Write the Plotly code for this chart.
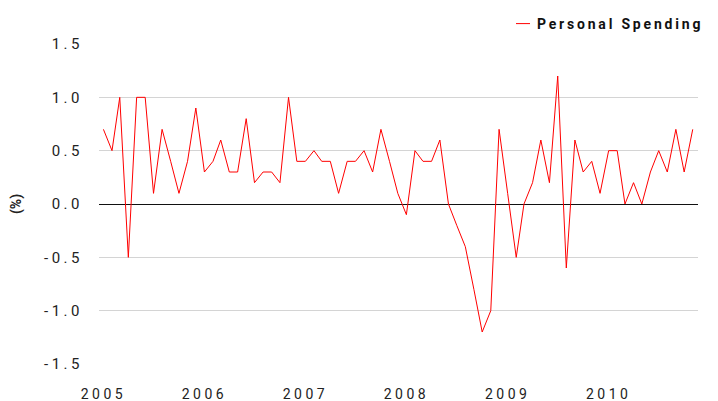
import plotly.graph_objects as go
import pandas as pd

# Monthly percent change, Jan 2005 - Nov 2010
months = pd.date_range("2005-01-01", periods=71, freq="MS")
spending = [
    0.7, 0.5, 1.0, -0.5, 1.0, 1.0, 0.1, 0.7, 0.4, 0.1, 0.4, 0.9,   # 2005
    0.3, 0.4, 0.6, 0.3, 0.3, 0.8, 0.2, 0.3, 0.3, 0.2, 1.0, 0.4,    # 2006
    0.4, 0.5, 0.4, 0.4, 0.1, 0.4, 0.4, 0.5, 0.3, 0.7, 0.4, 0.1,    # 2007
    -0.1, 0.5, 0.4, 0.4, 0.6, 0.0, -0.2, -0.4, -0.8, -1.2, -1.0, 0.7,  # 2008
    0.1, -0.5, 0.0, 0.2, 0.6, 0.2, 1.2, -0.6, 0.6, 0.3, 0.4, 0.1,  # 2009
    0.5, 0.5, 0.0, 0.2, 0.0, 0.3, 0.5, 0.3, 0.7, 0.3, 0.7,         # 2010
]
year_ticks = pd.date_range("2005-01-01", periods=6, freq="YS")
year_labels = ["2005", "2006", "2007", "2008", "2009", "2010"]
y_ticks = [-1.5, -1.0, -0.5, 0.0, 0.5, 1.0, 1.5]
y_labels = ["-1.5", "-1.0", "-0.5", "0.0", "0.5", "1.0", "1.5"]

fig = go.Figure()
fig.add_trace(go.Scatter(
    x=months, y=spending, mode="lines", name="Personal Spending",
    line=dict(color="#ff0000", width=1),
))

font_family = "Roboto, 'Open Sans', sans-serif"
fig.update_layout(
    width=718, height=401,
    margin=dict(l=99, r=20, t=44, b=37, autoexpand=False),
    paper_bgcolor="white", plot_bgcolor="white",
    font=dict(family=font_family, size=14, color="#222222"),
    showlegend=True,
    legend=dict(xref="container", yref="container",
                x=497.0 / 718, xanchor="left",
                y=1 - 8.0 / 401, yanchor="top",
                font=dict(size=14, color="#111111", weight="bold"),
                bgcolor="rgba(0,0,0,0)", borderwidth=0),
    xaxis=dict(
        range=["2004-12-16", "2010-11-20"],
        tickvals=year_ticks, ticktext=year_labels,
        showgrid=False, zeroline=False, showline=False, ticks="",
        tickfont=dict(size=14), automargin=False, ticklabelstandoff=20,
    ),
    yaxis=dict(
        range=[-1.5, 1.5],
        tickvals=y_ticks, ticktext=y_labels,
        showgrid=True, gridcolor="#d4d4d4", gridwidth=1,
        zeroline=True, zerolinecolor="#111111", zerolinewidth=1,
        showline=False, ticks="", ticklabelstandoff=15, automargin=False,
        title=dict(text="(%)", font=dict(size=14, weight="bold"), standoff=33),
        tickfont=dict(size=15),
    ),
)

post_js = """
document.documentElement.style.margin = '0';
document.body.style.margin = '0';
document.body.style.padding = '0';
var gd = document.getElementById('{plot_id}');
function spaceText() {
  gd.querySelectorAll('.xtick text').forEach(function(t){ t.style.letterSpacing = '3.5px'; });
  gd.querySelectorAll('.ytick text').forEach(function(t){ t.style.letterSpacing = '3.5px'; });
  gd.querySelectorAll('.legendtext').forEach(function(t){ t.style.letterSpacing = '2.8px'; });
  gd.querySelectorAll('.legendlines path').forEach(function(p){ p.setAttribute('d', 'M19,0h14'); });
  gd.querySelectorAll('.legend [clip-path]').forEach(function(e){ e.removeAttribute('clip-path'); });
}
spaceText();
gd.on('plotly_afterplot', spaceText);
"""

fig.write_html("out.html", post_script=post_js, config={"displayModeBar": False})
